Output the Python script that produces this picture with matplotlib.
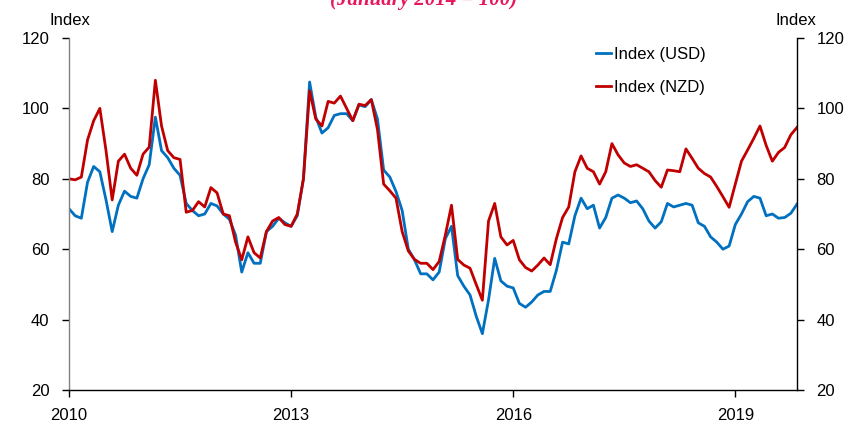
import matplotlib
matplotlib.use("Agg")
import matplotlib.pyplot as plt
import numpy as np

plt.rcParams['font.family'] = ['Liberation Sans', 'DejaVu Sans']

# Monthly data, Jan 2010 .. Nov 2019
start_year = 2010
usd = [71.5, 69.5, 68.8, 79, 83.5, 82, 74, 65, 72.5, 76.5, 75, 74.5,
       80, 84, 97.5, 88, 86, 83, 81, 73, 71, 69.5, 70, 73,
       72.3, 70, 68.5, 64, 53.5, 59, 56, 56, 65, 66.5, 68.8, 67.5,
       66.5, 69.5, 80, 107.5, 97.5, 93, 94.5, 98, 98.5, 98.5, 96.5, 101,
       100.5, 102.5, 97, 82.5, 80.5, 76.4, 71, 60, 57, 53, 53, 51.3,
       53.5, 63, 66.5, 52.5, 49.5, 47, 41, 36, 45.6, 57.4, 51, 49.5,
       49, 44.6, 43.5, 45, 47, 48, 48, 54, 62, 61.5, 69.5, 74.5,
       71.5, 72.5, 66, 69, 74.5, 75.4, 74.5, 73.2, 73.7, 71.5, 68, 66,
       67.8, 73, 72, 72.5, 73, 72.5, 67.5, 66.5, 63.5, 62, 60, 60.9,
       67, 70, 73.5, 75, 74.5, 69.5, 70, 68.8, 69, 70.2, 72.8]
nzd = [80, 79.7, 80.5, 91, 96.5, 100, 88, 74, 85, 87, 83, 81,
       87, 89, 108, 95, 88, 86, 85.5, 70.5, 71, 73.5, 72, 77.5,
       76, 70, 69.5, 62, 57, 63.5, 59, 57.5, 65, 68, 69, 67,
       66.5, 70, 80, 105, 97, 95, 102, 101.5, 103.5, 100, 96.5, 101.2,
       100.8, 102.5, 94, 78.5, 76.6, 74.5, 65, 59.5, 57.1, 56, 56, 54.2,
       56.5, 64, 72.5, 57.1, 55.5, 54.6, 50, 45.5, 68, 73, 63.5, 61.2,
       62.5, 57, 54.8, 53.8, 55.5, 57.5, 55.6, 63, 69, 72, 82, 86.5,
       83, 82, 78.5, 82, 90, 86.8, 84.5, 83.5, 84, 83, 82, 79.5,
       77.6, 82.5, 82.3, 82, 88.5, 85.8, 83, 81.5, 80.5, 77.8, 74.9, 71.9,
       78.5, 85, 88.2, 91.5, 95, 89.5, 85, 87.5, 88.9, 92.5, 94.6]
series_labels = ['Index (USD)', 'Index (NZD)']
year_ticks = [2010, 2013, 2016, 2019]
y_ticks = [20, 40, 60, 80, 100, 120]
title = '(January 2014 = 100)'

x = start_year + np.arange(len(usd)) / 12.0

fig = plt.figure(figsize=(8.59, 4.24), dpi=100)
ax = fig.add_axes([69/859, 1-390/424, (797-69)/859, (390-38)/424])

ax.plot(x, usd, color='#0070C0', lw=2.0, label=series_labels[0])
ax.plot(x, nzd, color='#C00000', lw=2.0, label=series_labels[1])

ax.set_xlim(x[0], x[-1])
ax.set_ylim(20, 120)
ax.set_yticks(y_ticks)
ax.set_xticks(year_ticks)
ax.set_xticklabels([str(t) for t in year_ticks])

ax.spines['top'].set_visible(False)
ax.spines['left'].set_color('#808080')
ax.spines['right'].set_color('black')
ax.spines['bottom'].set_color('black')
for s in ax.spines.values():
    s.set_linewidth(1.0)

ax.tick_params(axis='y', which='both', direction='out', length=5, width=1,
               labelsize=12, pad=9, left=True, right=True,
               labelleft=True, labelright=True)
ax.tick_params(axis='x', direction='out', length=5, width=1, labelsize=12, pad=8)

leg = ax.legend(loc='upper left', bbox_to_anchor=(596/859, 1-47/424),
                bbox_transform=fig.transFigure, frameon=False, fontsize=12,
                handlelength=0.9, handletextpad=0.15, labelspacing=1.1,
                borderpad=0, borderaxespad=0)

fig.text(70/859, 1-25/424, 'Index', ha='center', va='baseline', fontsize=12)
fig.text(796/859, 1-25/424, 'Index', ha='center', va='baseline', fontsize=12)
fig.text(424/859, 1-4.5/424, title, ha='center', va='baseline', fontsize=15,
         color='#E8175D', fontstyle='italic', fontweight='bold',
         family=['Liberation Serif', 'DejaVu Serif'])

fig.savefig('out.png', dpi=100)
